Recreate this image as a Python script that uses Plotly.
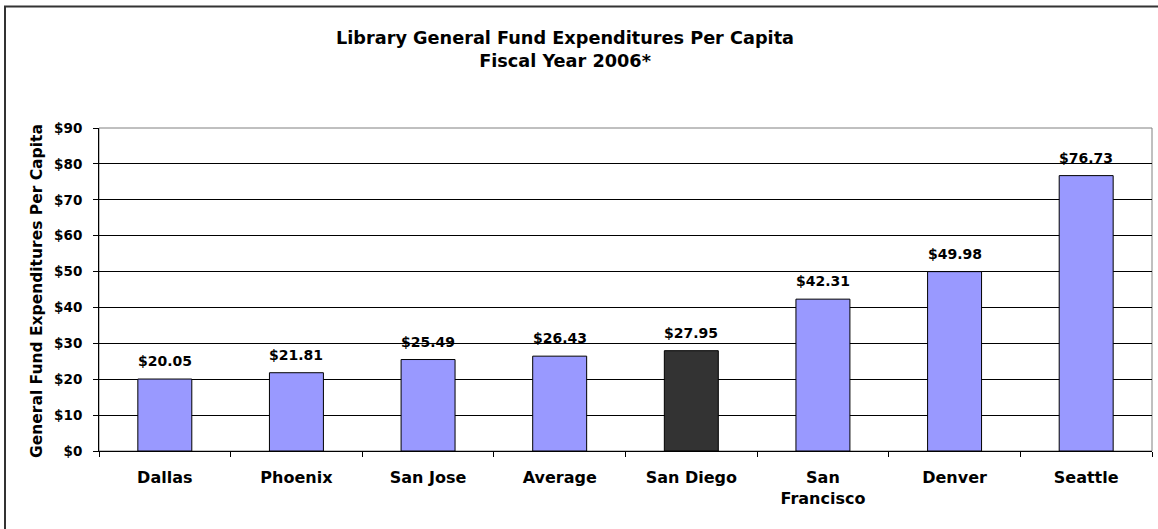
import plotly.graph_objects as go

cities = ["Dallas", "Phoenix", "San Jose", "Average", "San Diego", "San<br>Francisco", "Denver", "Seattle"]
values = [20.05, 21.81, 25.49, 26.43, 27.95, 42.31, 49.98, 76.73]
colors = ["#9999FF", "#9999FF", "#9999FF", "#9999FF", "#333333", "#9999FF", "#9999FF", "#9999FF"]
labels = ["$%.2f" % v for v in values]
yticks = list(range(0, 100, 10))
yticktext = ["<b>$%d</b>" % t for t in yticks]
xticktext = ["<b>%s</b>" % c for c in cities]

W, H = 1158, 529
L, R, T, B = 99, 6, 128, 78
pw, ph = W - L - R, H - T - B

def px(x):
    return (x - L) / pw

def py(y):
    return (H - B - y) / ph

font = "DejaVu Sans, Verdana, sans-serif"

fig = go.Figure(go.Bar(
    x=cities, y=values,
    marker=dict(color=colors, line=dict(color="black", width=1)),
    width=0.41, hoverinfo="x+y",
))

label_annotations = [
    dict(text="<b>%s</b>" % lab, x=c, y=v, xref="x", yref="y",
         xanchor="center", yanchor="bottom", yshift=8, showarrow=False,
         font=dict(family=font, size=14, color="black"))
    for c, v, lab in zip(cities, values, labels)
]

fig.update_layout(
    width=W, height=H,
    margin=dict(l=L, r=R, t=T, b=B, autoexpand=False),
    paper_bgcolor="white", plot_bgcolor="white",
    showlegend=False,
    font=dict(family=font, color="black"),
    xaxis=dict(
        type="category", showgrid=False, showline=True, linecolor="black", linewidth=1,
        ticks="outside", tickson="boundaries", ticklen=5, tickcolor="black",
        tickvals=cities, ticktext=xticktext, ticklabelstandoff=12,
        tickfont=dict(family=font, size=16, color="black"), automargin=False,
    ),
    yaxis=dict(
        range=[0, 90], tickvals=yticks, ticktext=yticktext,
        showgrid=True, gridcolor="black", gridwidth=1,
        showline=True, linecolor="black", linewidth=1,
        ticks="outside", ticklen=5, tickcolor="black", ticklabelstandoff=8,
        tickfont=dict(family=font, size=13.5, color="black"),
        zeroline=False, automargin=False,
    ),
    shapes=[
        dict(type="rect", xref="paper", yref="paper", x0=0, x1=1, y0=0, y1=1,
             line=dict(color="#808080", width=1), layer="below"),
        dict(type="rect", xref="paper", yref="paper",
             x0=px(5), x1=px(W + 10), y0=py(H + 10), y1=py(6.5),
             line=dict(color="#333333", width=2)),
    ],
    annotations=label_annotations + [
        dict(text="<b>Library General Fund Expenditures Per Capita<br>Fiscal Year 2006*</b>",
             xref="paper", yref="paper", x=px(565), y=py(49), xanchor="center", yanchor="middle",
             showarrow=False, font=dict(family=font, size=17.7, color="black"), align="center"),
        dict(text="<b>General Fund Expenditures Per Capita</b>", textangle=-90,
             xref="paper", yref="paper", x=px(37), y=py(291), xanchor="center", yanchor="middle",
             showarrow=False, font=dict(family=font, size=15.5, color="black")),
    ],
)

fig.write_html("out.html", config={"displayModeBar": False},
               post_script="document.body.style.margin='0';")
